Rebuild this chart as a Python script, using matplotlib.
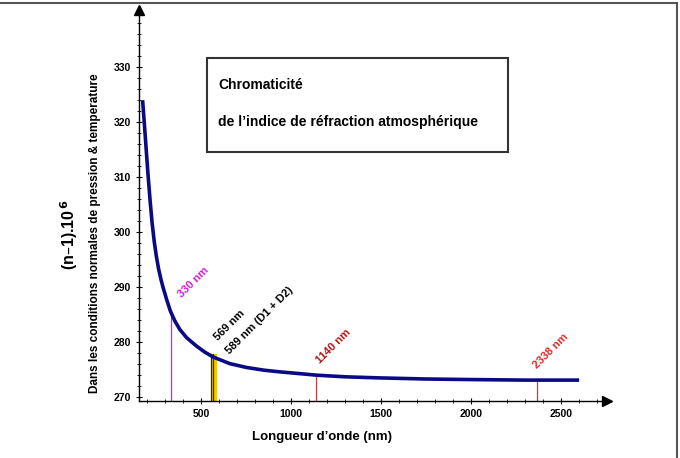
import matplotlib.pyplot as plt
from matplotlib.patches import Rectangle
from matplotlib.lines import Line2D

plt.rcParams['font.family'] = ['Liberation Sans', 'DejaVu Sans']
plt.rcParams['font.weight'] = 'bold'

# courbe : longueur d'onde (nm) -> (n-1).10^6
wavelength = [175, 185, 195, 206, 217, 228, 240, 252, 264, 277, 290, 310, 330,
              355, 382, 420, 474, 520, 567, 659, 752, 850, 937, 1040, 1140,
              1300, 1492, 1750, 2000, 2300, 2600]
refractivity = [324.0, 319.6, 315.0, 310.1, 305.6, 301.6, 298.2, 295.5, 293.3,
                291.4, 289.8, 287.6, 285.6, 283.8, 282.3, 280.8, 279.3, 278.2,
                277.3, 276.1, 275.4, 274.9, 274.6, 274.3, 274.0, 273.7, 273.5,
                273.3, 273.2, 273.1, 273.1]

# raies reperees
line_x = [330, 1140, 2365]
line_top = [285.6, 274.0, 273.1]
line_colors = ['#d020d0', '#c04040', '#e03030']
line_labels = ['330 nm', '1140 nm', '2338 nm']
label_colors = ['#d020d0', '#b01818', '#e82828']
label_pos = [(456, 290.8), (1238, 279.3), (2444, 278.4)]

sodium_band = (553, 587)
sodium_lines = [553, 568]
sodium_top = 277.8
sodium_labels = ['569 nm', '589 nm (D1 + D2)']
sodium_label_pos = [(655, 283.0), (827, 283.9)]

xticks = [500, 1000, 1500, 2000, 2500]
yticks = [270, 280, 290, 300, 310, 320, 330]

fig = plt.figure(figsize=(6.8, 4.58), dpi=100)
ax = fig.add_axes([139 / 680, 1 - 401 / 458, (607 - 139) / 680, (401 - 10) / 458])
ax.set_xlim(155, 2755)
ax.set_ylim(269.3, 340.4)

for s in ['top', 'right']:
    ax.spines[s].set_visible(False)
for s in ['left', 'bottom']:
    ax.spines[s].set_linewidth(1.0)
ax.plot(1, 0, '>k', ms=7, transform=ax.transAxes, clip_on=False)
ax.plot(0, 1, '^k', ms=7, transform=ax.transAxes, clip_on=False)

ax.set_xticks(xticks)
ax.set_yticks(yticks)
ax.set_xticks(range(200, 2701, 100), minor=True)
ax.set_yticks(range(270, 341, 2), minor=True)
ax.tick_params(which='major', direction='inout', length=5, width=0.8, labelsize=7.5, pad=3)
ax.tick_params(which='minor', direction='inout', length=3, width=0.6)

# bande jaune du sodium
ax.axvspan(sodium_band[0], sodium_band[1], ymin=0, ymax=(sodium_top - 269.3) / (340.4 - 269.3),
           color='#f5c800', lw=0)
for x in sodium_lines:
    ax.plot([x, x], [269.3, sodium_top], color='#333300', lw=0.9)

for x, top, c in zip(line_x, line_top, line_colors):
    ax.plot([x, x], [269.3, top], color=c, lw=0.9)

ax.plot(wavelength, refractivity, color='#0a0a85', lw=2.6, solid_capstyle='butt')

for (x, y), t, c in zip(label_pos, line_labels, label_colors):
    ax.text(x, y, t, color=c, fontsize=8, rotation=45, ha='center', va='center')
for (x, y), t in zip(sodium_label_pos, sodium_labels):
    ax.text(x, y, t, color='black', fontsize=8, rotation=45, ha='center', va='center')

# encadre du titre
fig.add_artist(Rectangle((206.7 / 680, 1 - 151.7 / 458), (508 - 206.7) / 680, (151.7 - 58.3) / 458,
                         transform=fig.transFigure, fill=False, ec='#333333', lw=1.5))
fig.text(218 / 680, 1 - 85 / 458, 'Chromaticité', fontsize=10, va='center')
fig.text(218 / 680, 1 - 121.7 / 458, 'de l\u2019indice de réfraction atmosphérique', fontsize=10, va='center')

# titres des axes
fig.text(95 / 680, 1 - 233 / 458, 'Dans les conditions normales de pression & temperature',
         rotation=90, fontsize=8.5, ha='center', va='center')
fig.text(69 / 680, 1 - 235 / 458, '(n\u20131).10$^{\\,6}$', rotation=90, fontsize=11.5,
         ha='center', va='center')
fig.text(322 / 680, 1 - 437 / 458, 'Longueur d\u2019onde (nm)', fontsize=9.5, ha='center', va='center')

# cadre exterieur (haut et droite)
fig.add_artist(Line2D([0, 677.3 / 680], [1 - 3 / 458, 1 - 3 / 458], transform=fig.transFigure,
                      color='#555555', lw=1.5))
fig.add_artist(Line2D([677.3 / 680, 677.3 / 680], [1 - 3 / 458, 0], transform=fig.transFigure,
                      color='#555555', lw=1.5))

fig.savefig('out.png', dpi=100)
